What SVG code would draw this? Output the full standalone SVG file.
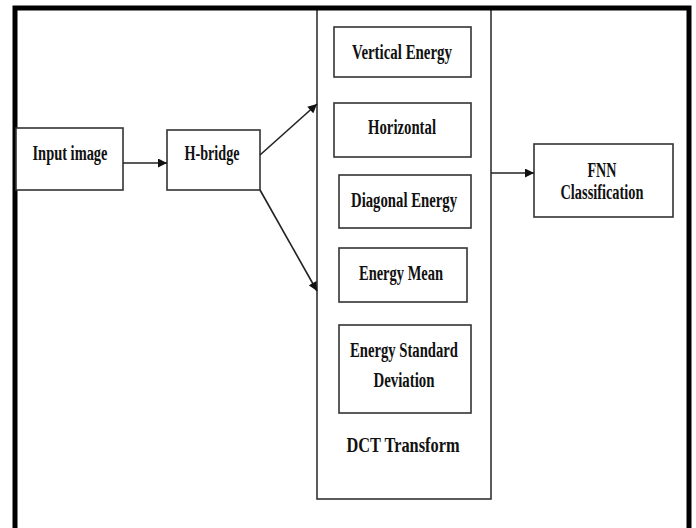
<svg xmlns="http://www.w3.org/2000/svg" width="696" height="528" viewBox="0 0 696 528">
<style>
.box{fill:#fff;stroke:#333;stroke-width:1.6}
.t{font-family:"Liberation Serif","Times New Roman",serif;font-weight:bold;font-size:20px;fill:#111;text-anchor:middle}
.c{stroke:#222;stroke-width:1.6;fill:none}
</style>
<defs>
<marker id="ah" viewBox="0 0 10 10" refX="10" refY="5" markerWidth="10" markerHeight="9" markerUnits="userSpaceOnUse" orient="auto">
<path d="M0,0 L10,5 L0,10 z" fill="#111"/>
</marker>
</defs>
<rect width="696" height="528" fill="#fff"/>
<g id="dct">
<rect class="box" x="317" y="8" width="174" height="491"/>
<text class="t" x="403" y="452" font-size="21" textLength="113" lengthAdjust="spacingAndGlyphs">DCT Transform</text>
</g>
<g id="frame">
<path d="M15,528 V8 H689 V528" fill="none" stroke="#000" stroke-width="5"/>
</g>
<g id="input">
<rect class="box" x="16" y="128" width="107" height="62"/>
<text class="t" x="70" y="160" textLength="75" lengthAdjust="spacingAndGlyphs">Input image</text>
</g>
<g id="hbridge">
<rect class="box" x="167" y="130" width="93" height="60"/>
<text class="t" x="212" y="160" textLength="55" lengthAdjust="spacingAndGlyphs">H-bridge</text>
</g>
<g id="vertical">
<rect class="box" x="334" y="27" width="137" height="50"/>
<text class="t" x="402" y="59" textLength="100" lengthAdjust="spacingAndGlyphs">Vertical Energy</text>
</g>
<g id="horizontal">
<rect class="box" x="334" y="103" width="137" height="54"/>
<text class="t" x="402" y="134" textLength="68" lengthAdjust="spacingAndGlyphs">Horizontal</text>
</g>
<g id="diagonal">
<rect class="box" x="339" y="175" width="132" height="53"/>
<text class="t" x="404" y="207" textLength="106" lengthAdjust="spacingAndGlyphs">Diagonal Energy</text>
</g>
<g id="mean">
<rect class="box" x="339" y="248" width="128" height="54"/>
<text class="t" x="401" y="280" textLength="84" lengthAdjust="spacingAndGlyphs">Energy Mean</text>
</g>
<g id="std">
<rect class="box" x="339" y="325" width="132" height="88"/>
<text class="t" x="404" y="357" textLength="108" lengthAdjust="spacingAndGlyphs">Energy Standard</text>
<text class="t" x="404" y="387" textLength="61" lengthAdjust="spacingAndGlyphs">Deviation</text>
</g>
<g id="fnn">
<rect class="box" x="534" y="144" width="139" height="73"/>
<text class="t" x="602" y="177" textLength="29" lengthAdjust="spacingAndGlyphs">FNN</text>
<text class="t" x="602" y="199" textLength="83" lengthAdjust="spacingAndGlyphs">Classification</text>
</g>
<g id="connectors">
<line class="c" x1="123" y1="163" x2="167" y2="163" marker-end="url(#ah)"/>
<line class="c" x1="260" y1="155" x2="317" y2="104" marker-end="url(#ah)"/>
<line class="c" x1="260" y1="190" x2="317" y2="291" marker-end="url(#ah)"/>
<line class="c" x1="491" y1="173" x2="534" y2="173" marker-end="url(#ah)"/>
</g>
</svg>
